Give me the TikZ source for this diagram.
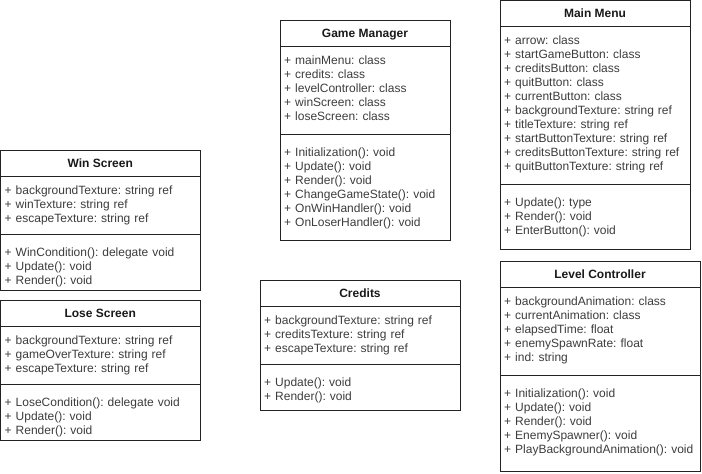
\documentclass[tikz,border=0pt]{standalone}
\usepackage{fontspec}
\setmainfont{Liberation Sans}
\usepackage{tikz}
\usetikzlibrary{positioning}
\definecolor{linecol}{RGB}{35,35,35}
\definecolor{titlecol}{RGB}{25,25,25}
\definecolor{textcol}{RGB}{60,60,60}
\tikzset{
  header/.style = {rectangle, draw=linecol, line width=1pt, outer sep=0pt, inner sep=0pt, minimum height=26pt, text height=8.6pt, text depth=0pt, anchor=north west, text=titlecol, font=\fontsize{12pt}{14pt}\selectfont\bfseries},
  section/.style = {rectangle, draw=linecol, line width=1pt, outer sep=0pt, inner sep=0pt, anchor=north west},
  members/.style = {anchor=base west, align=left, text width=195pt, inner sep=0pt, text=textcol, font=\fontsize{12pt}{14pt}\selectfont\frenchspacing}
}
\begin{document}
\begin{tikzpicture}[x=1pt, y=-1pt]
	\useasboundingbox (0,0) rectangle (702,474);

	% Win Screen
	\node[header, minimum width=199.5pt](WS-title) at (0.5,150){Win Screen};
	\node[section, minimum width=199.5pt, minimum height=58pt](WS-attr) at (WS-title.south west){};
	\node[section, minimum width=199.5pt, minimum height=56pt](WS-ops) at (WS-attr.south west){};
	\node[members](WS-attr-text) at ([xshift=4pt, yshift=-18pt]WS-attr.north west){+ backgroundTexture: string ref\\+ winTexture: string ref\\+ escapeTexture: string ref};
	\node[members](WS-ops-text) at ([xshift=4pt, yshift=-22pt]WS-ops.north west){+ WinCondition(): delegate void\\+ Update(): void\\+ Render(): void};

	% Lose Screen
	\node[header, minimum width=199.5pt](LS-title) at (0.5,300){Lose Screen};
	\node[section, minimum width=199.5pt, minimum height=58pt](LS-attr) at (LS-title.south west){};
	\node[section, minimum width=199.5pt, minimum height=56pt](LS-ops) at (LS-attr.south west){};
	\node[members](LS-attr-text) at ([xshift=4pt, yshift=-18pt]LS-attr.north west){+ backgroundTexture: string ref\\+ gameOverTexture: string ref\\+ escapeTexture: string ref};
	\node[members](LS-ops-text) at ([xshift=4pt, yshift=-22pt]LS-ops.north west){+ LoseCondition(): delegate void\\+ Update(): void\\+ Render(): void};

	% Game Manager
	\node[header, minimum width=170pt](GM-title) at (280,20){Game Manager};
	\node[section, minimum width=170pt, minimum height=88pt](GM-attr) at (GM-title.south west){};
	\node[section, minimum width=170pt, minimum height=106pt](GM-ops) at (GM-attr.south west){};
	\node[members](GM-attr-text) at ([xshift=4pt, yshift=-18pt]GM-attr.north west){+ mainMenu: class\\+ credits: class\\+ levelController: class\\+ winScreen: class\\+ loseScreen: class};
	\node[members](GM-ops-text) at ([xshift=4pt, yshift=-22pt]GM-ops.north west){+ Initialization(): void\\+ Update(): void\\+ Render(): void\\+ ChangeGameState(): void\\+ OnWinHandler(): void\\+ OnLoserHandler(): void};

	% Credits
	\node[header, minimum width=200pt](CR-title) at (260,280){Credits};
	\node[section, minimum width=200pt, minimum height=58pt](CR-attr) at (CR-title.south west){};
	\node[section, minimum width=200pt, minimum height=46pt](CR-ops) at (CR-attr.south west){};
	\node[members](CR-attr-text) at ([xshift=4pt, yshift=-18pt]CR-attr.north west){+ backgroundTexture: string ref\\+ creditsTexture: string ref\\+ escapeTexture: string ref};
	\node[members](CR-ops-text) at ([xshift=4pt, yshift=-22pt]CR-ops.north west){+ Update(): void\\+ Render(): void};

	% Main Menu
	\node[header, minimum width=190pt, minimum height=25.5pt](MM-title) at (500,0.5){Main Menu};
	\node[section, minimum width=190pt, minimum height=158pt](MM-attr) at (MM-title.south west){};
	\node[section, minimum width=190pt, minimum height=65pt](MM-ops) at (MM-attr.south west){};
	\node[members](MM-attr-text) at ([xshift=4pt, yshift=-18pt]MM-attr.north west){+ arrow: class\\+ startGameButton: class\\+ creditsButton: class\\+ quitButton: class\\+ currentButton: class\\+ backgroundTexture: string ref\\+ titleTexture: string ref\\+ startButtonTexture: string ref\\+ creditsButtonTexture: string ref\\+ quitButtonTexture: string ref};
	\node[members](MM-ops-text) at ([xshift=4pt, yshift=-22pt]MM-ops.north west){+ Update(): type\\+ Render(): void\\+ EnterButton(): void};

	% Level Controller
	\node[header, minimum width=200pt](LC-title) at (500,261){Level Controller};
	\node[section, minimum width=200pt, minimum height=88pt](LC-attr) at (LC-title.south west){};
	\node[section, minimum width=200pt, minimum height=96pt](LC-ops) at (LC-attr.south west){};
	\node[members](LC-attr-text) at ([xshift=4pt, yshift=-18pt]LC-attr.north west){+ backgroundAnimation: class\\+ currentAnimation: class\\+ elapsedTime: float\\+ enemySpawnRate: float\\+ ind: string};
	\node[members](LC-ops-text) at ([xshift=4pt, yshift=-22pt]LC-ops.north west){+ Initialization(): void\\+ Update(): void\\+ Render(): void\\+ EnemySpawner(): void\\+ PlayBackgroundAnimation(): void};

\end{tikzpicture}
\end{document}
